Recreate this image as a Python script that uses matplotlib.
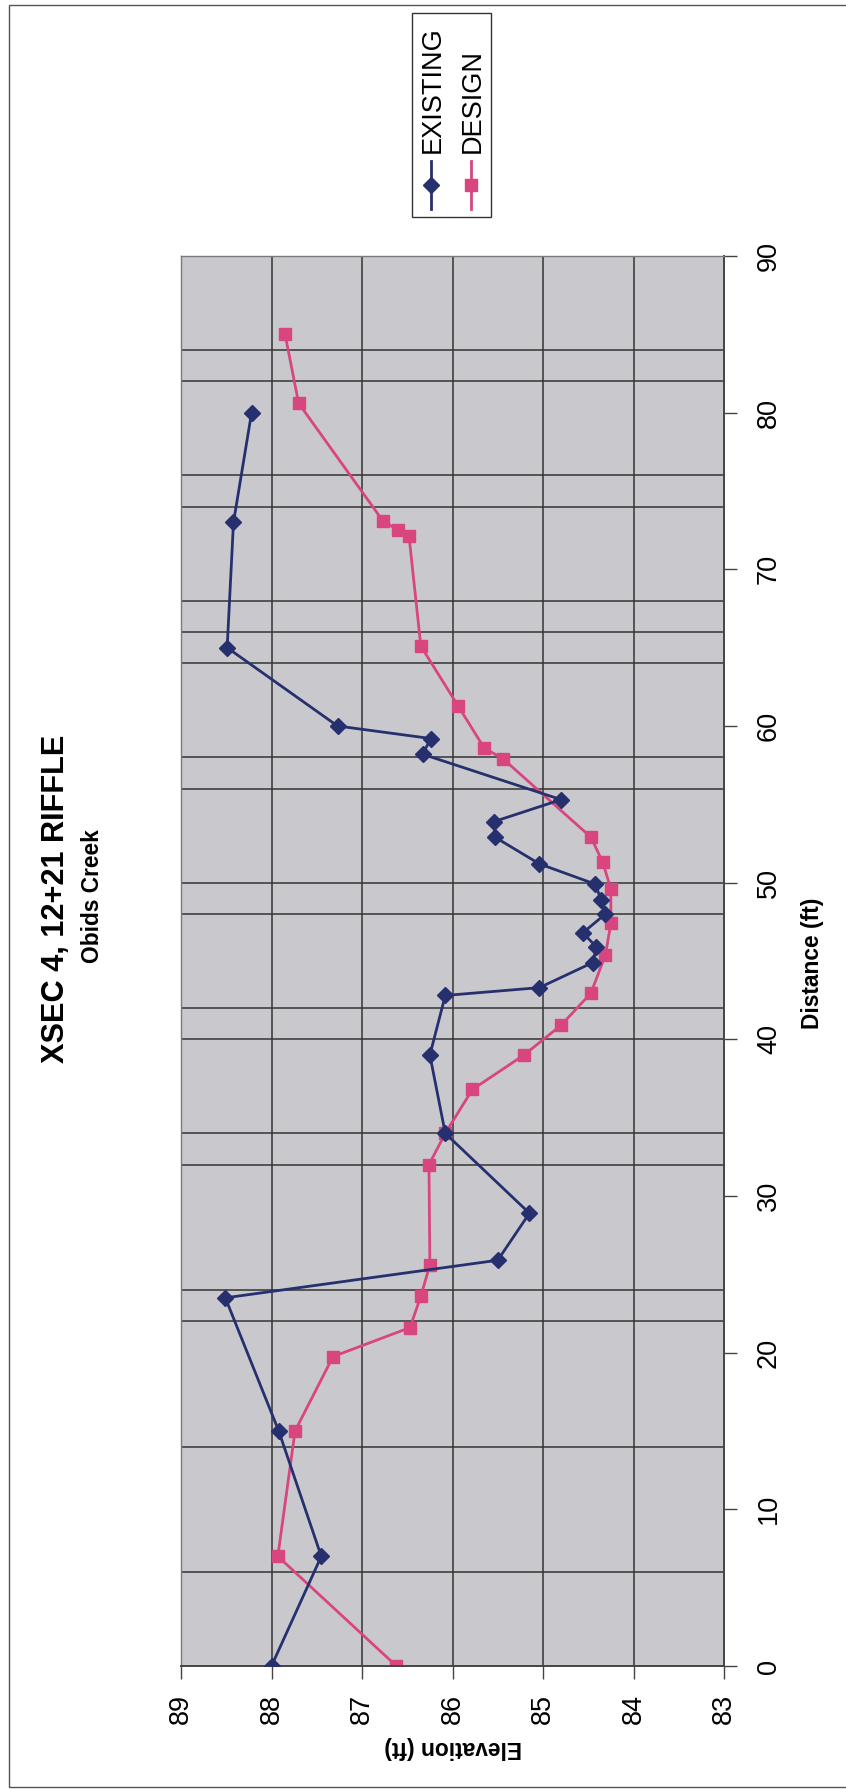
import matplotlib
matplotlib.use("Agg")
import matplotlib.pyplot as plt
from matplotlib.lines import Line2D
from matplotlib.patches import Rectangle
from matplotlib import font_manager

plt.rcParams['font.family'] = ['Liberation Sans', 'DejaVu Sans']

# Узкий шрифт для заголовков, если он есть
names = {f.name for f in font_manager.fontManager.ttflist}
narrow = 'Liberation Sans Narrow' if 'Liberation Sans Narrow' in names else 'Liberation Sans'
scale = 1.0 if narrow == 'Liberation Sans Narrow' else 0.82
print(narrow)

# Данные (расстояние, ft / отметка, ft)
existing_dist = [0, 7, 15, 23.5, 25.9, 28.9, 34, 39, 42.8, 43.3, 44.9, 45.9, 46.8,
                 48.0, 48.9, 49.9, 51.2, 52.9, 53.9, 55.3, 58.2, 59.2, 60, 65, 73, 80]
existing_elev = [88.0, 87.45, 87.92, 88.51, 85.5, 85.15, 86.08, 86.25, 86.08, 85.04,
                 84.45, 84.41, 84.56, 84.31, 84.36, 84.42, 85.04, 85.53, 85.54, 84.80,
                 86.33, 86.24, 87.27, 88.49, 88.42, 88.22]

design_dist = [0, 7, 15, 19.75, 21.6, 23.6, 25.6, 32, 34, 36.8, 39, 40.9, 42.95, 45.4,
               47.4, 49.6, 51.3, 52.9, 57.9, 58.6, 61.3, 65.1, 72.1, 72.5, 73.1, 80.6, 85]
design_elev = [86.62, 87.93, 87.74, 87.32, 86.47, 86.35, 86.25, 86.26, 86.08, 85.78,
               85.21, 84.80, 84.47, 84.31, 84.25, 84.25, 84.34, 84.47, 85.44, 85.65,
               85.94, 86.35, 86.48, 86.60, 86.77, 87.70, 87.85]

elev_ticks = [89, 88, 87, 86, 85, 84, 83]
dist_ticks = [0, 10, 20, 30, 40, 50, 60, 70, 80, 90]
# линии сетки по расстоянию, видимые на скане
dist_grid = [6, 14, 22, 24, 32, 34, 40, 42, 48, 50, 56, 58, 64, 66, 68, 74, 76, 82, 84]

W, H = 846, 1789
def fx(px):
    return px / W
def fy(py):
    return 1 - py / H

fig = plt.figure(figsize=(W / 100, H / 100), dpi=100)
fig.patch.set_facecolor('white')

# Рамка листа
fig.add_artist(Rectangle((fx(9), fy(1787)), 1.0, fy(5) - fy(1787), transform=fig.transFigure,
                         fill=False, edgecolor='#555555', lw=1.0))

# График повернут на 90 градусов: по горизонтали отметка, по вертикали расстояние
ax = fig.add_axes([fx(181), fy(1666), fx(724) - fx(181), fy(256) - fy(1666)])
ax.set_facecolor('#c9c9cd')
ax.set_xlim(89, 83)
ax.set_ylim(0, 90)

for d in dist_grid:
    ax.axhline(d, color='#333333', lw=1.1, zorder=1)
for e in elev_ticks[1:-1]:
    ax.axvline(e, color='#333333', lw=1.1, zorder=1)

ax.plot(existing_elev, existing_dist, color='#26306e', lw=2.0, marker='D',
        markersize=8, zorder=3, label='EXISTING')
ax.plot(design_elev, design_dist, color='#d8457f', lw=2.0, marker='s',
        markersize=8.5, zorder=2, label='DESIGN')

for s in ['left', 'top']:
    ax.spines[s].set_color('#7a7a7a')
    ax.spines[s].set_linewidth(1.0)
for s in ['right', 'bottom']:
    ax.spines[s].set_color('#444444')
    ax.spines[s].set_linewidth(1.4)

ax.set_xticks(elev_ticks)
ax.set_xticklabels([str(v) for v in elev_ticks], rotation=90, fontsize=19.5)
ax.set_yticks(dist_ticks)
ax.set_yticklabels([str(v) for v in dist_ticks], rotation=90, fontsize=19.5, va='center')
ax.yaxis.tick_right()
ax.tick_params(axis='x', direction='out', length=9, width=1.0, color='#444444', pad=11)
ax.tick_params(axis='y', direction='out', length=9, width=1.0, color='#444444', pad=14)

# Подписи
fig.text(fx(56), fy(899), 'XSEC 4, 12+21 RIFFLE', rotation=90, ha='center', va='center',
         fontsize=27 * scale, fontweight='bold', family=narrow)
fig.text(fx(92), fy(896), 'Obids Creek', rotation=90, ha='center', va='center',
         fontsize=20 * scale, fontweight='bold', family=narrow)
fig.text(fx(812), fy(963), 'Distance (ft)', rotation=90, ha='center', va='center',
         fontsize=20 * scale, fontweight='bold', family=narrow)
fig.text(fx(453), fy(1747), 'Elevation (ft)', rotation=180, ha='center', va='center',
         fontsize=20 * scale, fontweight='bold', family=narrow)

# Легенда (тоже повернута)
fig.add_artist(Rectangle((fx(412), fy(217)), fx(491) - fx(412), fy(13) - fy(217),
                         transform=fig.transFigure, fill=True, facecolor='white',
                         edgecolor='#333333', lw=1.0))
for x, color, mk, ms, name in [(431, '#26306e', 'D', 8, 'EXISTING'),
                               (471, '#d8457f', 's', 8.5, 'DESIGN')]:
    fig.add_artist(Line2D([fx(x), fx(x)], [fy(209), fy(161)], transform=fig.transFigure,
                          color=color, lw=2.0))
    fig.add_artist(Line2D([fx(x)], [fy(185)], transform=fig.transFigure, color=color,
                          marker=mk, markersize=ms, lw=0))
    fig.text(fx(x + 2), fy(153), name, rotation=90, ha='center', va='bottom', fontsize=19.5)

fig.savefig('out.png', dpi=100, facecolor='white')
